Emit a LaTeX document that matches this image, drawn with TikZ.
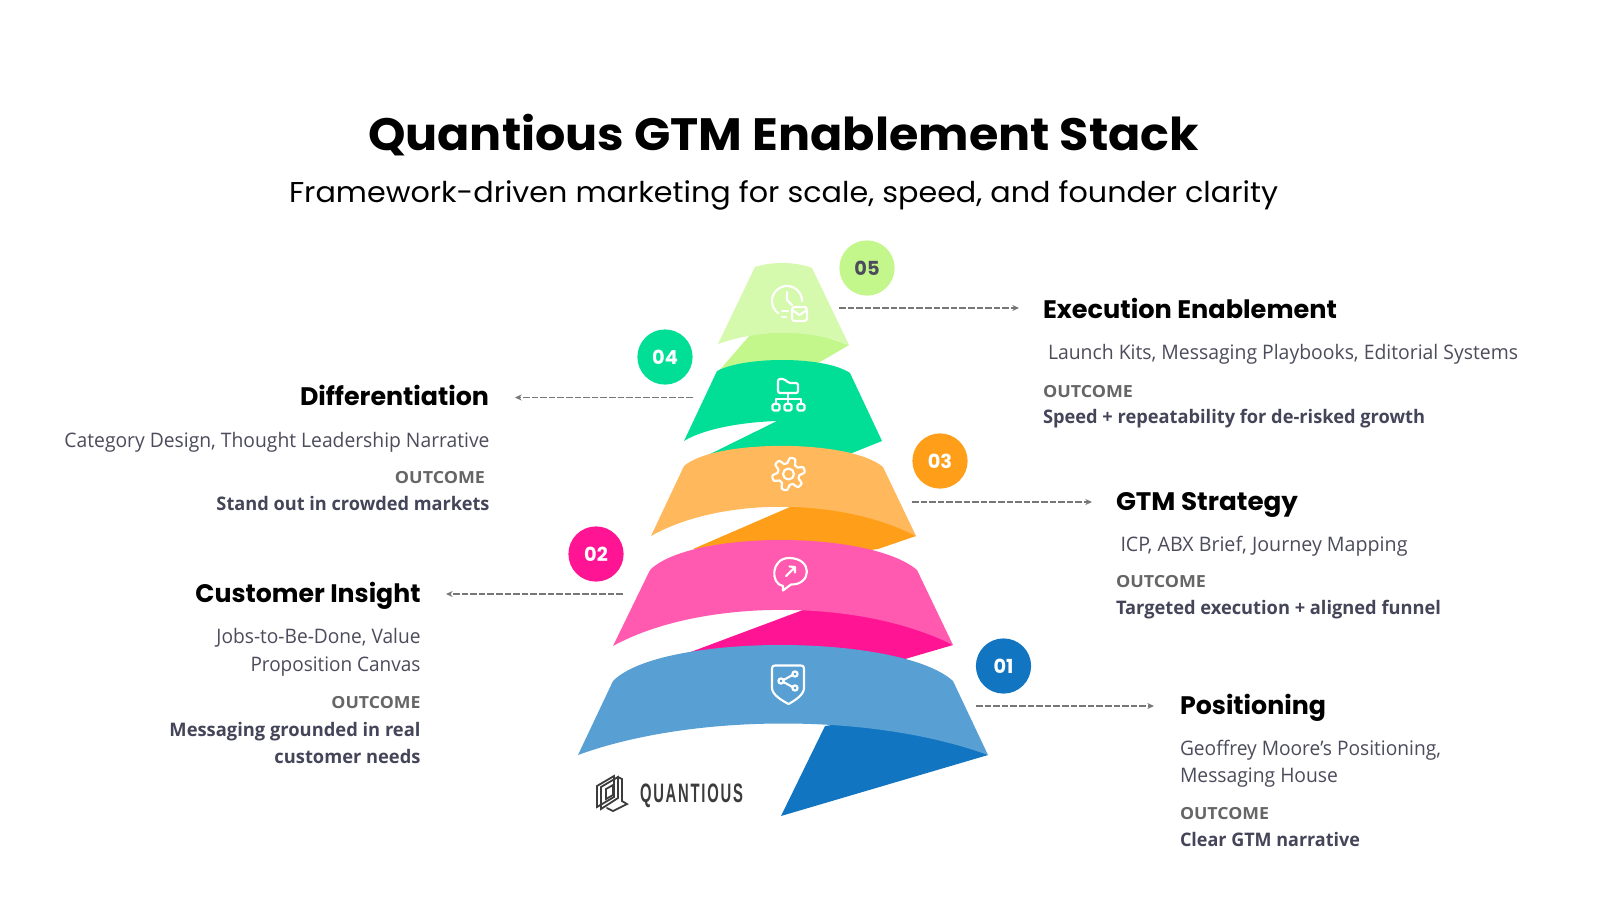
\documentclass[tikz,border=0pt]{standalone}
\usepackage{fontspec}
\usepackage{graphicx}
\usetikzlibrary{arrows.meta}
\newfontfamily\headf{Poppins}
\newfontfamily\bodyf{Open Sans}
\newfontfamily\logof{Liberation Sans}
\definecolor{c5l}{HTML}{D5F9AD}\definecolor{c5d}{HTML}{C3F78C}
\definecolor{c4}{HTML}{00DF95}
\definecolor{c3l}{HTML}{FFB95C}\definecolor{c3d}{HTML}{FF9E18}
\definecolor{c2l}{HTML}{FF5AAF}\definecolor{c2d}{HTML}{FF1493}
\definecolor{c1l}{HTML}{589FD3}\definecolor{c1d}{HTML}{1175C1}
\definecolor{bodyc}{HTML}{4C4C5C}\definecolor{outc}{HTML}{666666}\definecolor{boldc}{HTML}{45455A}
\definecolor{dashc}{HTML}{777777}\definecolor{logoc}{HTML}{3C3C3C}
\newcommand\ttlfont{\headf\bfseries\fontsize{34}{38}\selectfont\color{black}}
\newcommand\subfont{\headf\fontsize{21.5}{26}\selectfont\color{black}}
\newcommand\hdfont{\headf\bfseries\fontsize{19}{23}\selectfont\color{black}}
\newcommand\bdfont{\bodyf\fontsize{15}{18}\selectfont\color{bodyc}}
\newcommand\otfont{\bodyf\bfseries\fontsize{12.5}{15}\selectfont\color{outc}}
\newcommand\bofont{\bodyf\bfseries\fontsize{14}{17}\selectfont\color{boldc}}
% name, anchor, x, y, font, width in px, text
\newcommand\lbl[7]{\node[inner sep=0pt,outer sep=0pt,anchor=base #2] (#1) at (#3,#4) {\resizebox{\dimexpr #6pt*3/4\relax}{\height}{#5 #7}};}
\tikzset{
 lnk/.style={draw=dashc,line width=1.2pt,dash pattern=on 4.9pt off 1.55pt,-{Stealth[length=5pt,width=4.5pt,fill=dashc]}},
 badge/.style={circle,minimum size=41.4pt,inner sep=0pt,font=\headf\bfseries\fontsize{14.5}{16}\selectfont},
 icon/.style={draw=white,line width=1.6pt,line cap=round,line join=round},
 logoln/.style={draw=logoc,line width=1.35pt,line join=miter,line cap=round},
}
\begin{document}
\begin{tikzpicture}[x=0.75pt,y=-0.75pt]
\useasboundingbox (0,0) rectangle (1600,900);
\fill[white] (0,0) rectangle (1600,900);
% layer 5
\fill[c5d] (750,335) -- (718,372) -- (780,380) -- (820,362) -- (849,345) -- (790,325) -- cycle;
\fill[c5l] (755,267) .. controls (772,261.5) and (795,261.5) .. (812,268) -- (849,345) .. controls (810,329) and (760,329) .. (718,344) -- cycle;
% layer 4
\fill[c4] (717,371) .. controls (745,356) and (825,356) .. (850,373) -- (882,441) -- (852,453) -- (760,470) -- (698,460) -- (777,421) .. controls (745,422) and (705,428) .. (684,441) -- cycle;
% layer 3
\fill[c3d] (790,507) -- (693,549) -- (760,565) -- (878,549) -- (916,536) -- (860,500) -- cycle;
\fill[c3l] (684,466) .. controls (715,439) and (850,439) .. (883,467) -- (916,536) .. controls (840,497) and (720,497) .. (651,536) -- cycle;
% layer 2
\fill[c2d] (803,610) -- (688,653) -- (770,670) -- (905,659) -- (953,645) -- (870,600) -- cycle;
\fill[c2l] (650,570) .. controls (690,530) and (870,530) .. (917,570) -- (953,645) .. controls (860,598) and (700,598) .. (613,646) -- cycle;
% layer 1
\fill[c1d] (825,726) -- (781,816) -- (988,755) -- (900,715) -- cycle;
\fill[c1l] (613,681) .. controls (660,633) and (900,633) .. (953,681) -- (988,755) .. controls (870,712) and (690,714) .. (578,755) -- cycle;
% icon 05
\draw[icon] (802,301) arc[start angle=0,end angle=-235,radius=15];
\draw[icon] (787,292) -- (787,300) -- (792,305);
\draw[icon] (782,311) -- (788,311) (782,317) -- (786,317);
\draw[icon,rounded corners=2pt] (792,307) rectangle (807,321);
\draw[icon] (792,310) -- (799.5,315) -- (807,310);
% icon 04
\draw[icon,rounded corners=1.5pt] (778,393) -- (778,379) -- (785,379) -- (788,383) -- (798,383) -- (798,393) -- cycle;
\draw[icon] (788,393) -- (788,403) (776,403) -- (776,399) -- (801,399) -- (801,403);
\draw[icon,rounded corners=1pt] (772.5,404) rectangle (779.5,410.5) (784.5,404) rectangle (791.5,410.5) (797.5,404) rectangle (804.5,410.5);
% icon 03
\draw[icon] plot[domain=0:360,samples=73,smooth] ({788.5+(13.6+2.8*max(-1,min(1,1.7*cos(6*\x+90))))*cos(\x)},{474+(13.6+2.8*max(-1,min(1,1.7*cos(6*\x+90))))*sin(\x)}) -- cycle;
\draw[icon] (788.5,474) circle[radius=5.5];
% icon 02
\draw[icon] (783,586) .. controls (770,584) and (771,558) .. (789,558) .. controls (813,558) and (812,585) .. (791,584.5) -- (783,590.5) -- cycle;
\draw[icon] (786,576) -- (795,567) (789.5,566.5) -- (795,567) -- (795,572.5);
% icon 01
\draw[icon] (775,665.5) -- (801,665.5) .. controls (803,665.5) and (804,666.5) .. (804,668.5) -- (804,688) .. controls (804,695) and (794,701) .. (788.5,704) .. controls (783,701) and (772,695) .. (772,688) -- (772,668.5) .. controls (772,666.5) and (773,665.5) .. (775,665.5) -- cycle;
\draw[icon] (781,681) circle[radius=2.6] (795,674) circle[radius=2.6] (795,688) circle[radius=2.6];
\draw[icon] (783.5,680) -- (792.5,675) (783.5,682) -- (792.5,687);
% logo mark
\draw[logoln] (597,786) -- (614,776) -- (614,797) -- (597,807) -- cycle;
\draw[logoln] (601,787) -- (618,777) -- (618,798) -- (601,809) -- cycle;
\draw[logoln] (606,789) -- (613,785) -- (613,795) -- (606,799) -- cycle;
\draw[logoln] (618,777) -- (622,779) -- (622,801) -- (627,804) -- (613,811) -- (607,808);
% badges
\node[badge,fill=c5d,text=bodyc] (b5) at (867,268) {05};
\node[badge,fill=c4,text=white] (b4) at (665,357) {04};
\node[badge,fill=c3d,text=white] (b3) at (940,461) {03};
\node[badge,fill=c2d,text=white] (b2) at (596,554) {02};
\node[badge,fill=c1d,text=white] (b1) at (1003.5,666) {01};
% connectors
\coordinate (s5) at (839,308); \coordinate (e5) at (1019,308);
\coordinate (s4) at (693,397.5); \coordinate (e4) at (515,397.5);
\coordinate (s3) at (912,502); \coordinate (e3) at (1092,502);
\coordinate (s2) at (623,594); \coordinate (e2) at (446,594);
\coordinate (s1) at (976,706); \coordinate (e1) at (1154,706);
\draw[lnk] (s5) -- (e5);
\draw[lnk] (s4) -- (e4);
\draw[lnk] (s3) -- (e3);
\draw[lnk] (s2) -- (e2);
\draw[lnk] (s1) -- (e1);
% title
\lbl{title}{west}{368}{150}{\ttlfont}{831}{Quantious GTM Enablement Stack}
\lbl{subtitle}{west}{289}{202.5}{\subfont}{989}{Framework-driven marketing for scale, speed, and founder clarity}
% 05
\lbl{h5}{west}{1043}{318.5}{\hdfont}{294}{Execution Enablement}
\lbl{d5}{west}{1048}{359.5}{\bdfont}{470}{Launch Kits, Messaging Playbooks, Editorial Systems}
\lbl{o5}{west}{1043}{397}{\otfont}{90}{OUTCOME}
\lbl{r5}{west}{1043}{423}{\bofont}{382}{Speed + repeatability for de-risked growth}
% 04
\lbl{h4}{east}{489}{405}{\hdfont}{189}{Differentiation}
\lbl{d4}{east}{489.5}{447}{\bdfont}{425}{Category Design, Thought Leadership Narrative}
\lbl{o4}{east}{485}{483.5}{\otfont}{90}{OUTCOME}
\lbl{r4}{east}{489.5}{510}{\bofont}{273}{Stand out in crowded markets}
% 03
\lbl{h3}{west}{1116}{510}{\hdfont}{182}{GTM Strategy}
\lbl{d3}{west}{1120.5}{551}{\bdfont}{287}{ICP, ABX Brief, Journey Mapping}
\lbl{o3}{west}{1116}{587}{\otfont}{90}{OUTCOME}
\lbl{r3}{west}{1116}{614}{\bofont}{325}{Targeted execution + aligned funnel}
% 02
\lbl{h2}{east}{420.5}{602}{\hdfont}{225}{Customer Insight}
\lbl{d2a}{east}{420.5}{643.5}{\bdfont}{204}{Jobs-to-Be-Done, Value}
\lbl{d2b}{east}{420.5}{671}{\bdfont}{170}{Proposition Canvas}
\lbl{o2}{east}{420.5}{708.5}{\otfont}{89}{OUTCOME}
\lbl{r2a}{east}{420.5}{736}{\bofont}{251}{Messaging grounded in real}
\lbl{r2b}{east}{420.5}{763.5}{\bofont}{146}{customer needs}
% 01
\lbl{h1}{west}{1180}{714.5}{\hdfont}{146}{Positioning}
\lbl{d1a}{west}{1180}{755}{\bdfont}{261}{Geoffrey Moore’s Positioning,}
\lbl{d1b}{west}{1180}{782.5}{\bdfont}{158}{Messaging House}
\lbl{o1}{west}{1180}{819}{\otfont}{89}{OUTCOME}
\lbl{r1}{west}{1180}{846}{\bofont}{180}{Clear GTM narrative}
% logo
\lbl{logo}{west}{640}{802}{\logof\bfseries\fontsize{20}{22}\selectfont\color{logoc}\addfontfeature{LetterSpace=12}}{103}{QUANTIOUS}
\end{tikzpicture}
\end{document}
